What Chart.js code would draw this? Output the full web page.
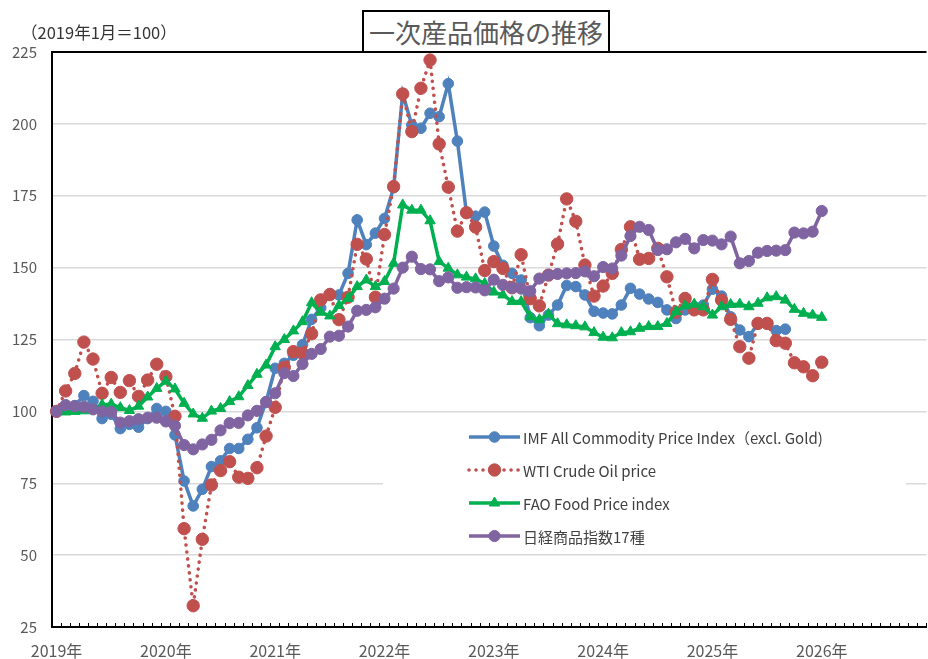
<!DOCTYPE html>
<html>
<head>
<meta charset="utf-8">
<script src="https://cdn.jsdelivr.net/npm/chart.js@4/dist/chart.umd.min.js"></script>
<style>
  html, body { margin: 0; padding: 0; background: #fff; }
  body { width: 928px; height: 659px; overflow: hidden; position: relative; font-family: "Noto Sans CJK JP", sans-serif; }
  #wrap { position: absolute; left: 0; top: 0; width: 940px; height: 659px; }
  #unit { position: absolute; left: 21px; top: 20px; font-size: 16.5px; color: #333; white-space: nowrap; }
  #title { position: absolute; left: 362px; top: 10px; width: 244px; height: 39px; border: 2px solid #000;
           background: #fff; color: #595959; font-size: 26px; line-height: 39px; text-align: center; white-space: nowrap; }
</style>
</head>
<body>
<div id="wrap"><canvas id="chart"></canvas></div>
<div id="unit">（2019年1月＝100）</div>
<div id="title">一次産品価格の推移</div>
<script>
// Monthly index values, January 2019 = 100
const years = [2019, 2020, 2021, 2022, 2023, 2024, 2025, 2026];
const yearLabels = ['2019年', '2020年', '2021年', '2022年', '2023年', '2024年', '2025年', '2026年'];
const yTicks = [25, 50, 75, 100, 125, 150, 175, 200, 225];

const seriesNames = [
  'IMF All Commodity Price Index（excl. Gold)',
  'WTI Crude Oil price',
  'FAO Food Price index',
  '日経商品指数17種'
];

// 2019-01 .. 2025-09
const imfIndex = [
  100, 101.5, 102, 105.5, 103.5, 97.5, 99, 94, 95.5, 94.5, 97.5, 101,
  100, 91.8, 75.8, 67.1, 72.9, 80.8, 82.8, 87.1, 87.1, 90.3, 94.3, 103.4,
  115, 116.7, 119.5, 123.2, 132, 136, 141, 140.5, 148, 166.6, 158, 162,
  167.1, 177.8, 210.5, 199.6, 198.5, 203.7, 202.5, 214, 194, 169, 167.9, 169.3,
  157.5, 150.8, 148, 145.7, 132.6, 129.8, 133.5, 137, 143.8, 143.4, 140.5, 134.8,
  134.2, 133.9, 137, 142.8, 140.8, 139.1, 137.9, 135.3, 132.3, 135.3, 136.4, 137,
  142.5, 140.1, 132.9, 128.3, 126, 130.6, 130.6, 128.1, 128.6
];

// 2019-01 .. 2026-01
const wtiIndex = [
  100, 107.1, 113.2, 124.1, 118.2, 106.3, 111.8, 106.6, 110.7, 105.2, 110.9, 116.4,
  112.1, 98.3, 59.2, 32.4, 55.5, 74.4, 79.4, 82.5, 77.1, 76.7, 80.4, 91.4,
  101.4, 115.3, 120.8, 120.2, 127, 138.8, 140.6, 131.9, 139.7, 158.1, 153, 139.7,
  161.5, 178.2, 210.4, 197.3, 212.4, 222.2, 193, 178, 162.7, 169.1, 164.1, 149,
  152.1, 149.7, 143, 154.5, 139.2, 136.7, 147.4, 158.2, 173.9, 166.1, 150.9, 140.1,
  143.6, 148, 156.3, 164.2, 152.9, 153.2, 156.7, 146.8, 134.5, 139.3, 135.3, 135.3,
  145.9, 138.7, 132, 122.5, 118.5, 130.6, 130.6, 124.6, 123.7, 116.9, 115.5, 112.4,
  117.1
];

const faoIndex = [
  100, 99.8, 100, 100.2, 100.7, 102.3, 102.5, 101.3, 100.3, 101.8, 105, 108,
  110.5, 107.8, 102.8, 99.1, 97.6, 100.1, 101, 103.4, 105.1, 109, 112.9, 116.1,
  122.5, 125, 128, 131.2, 137.8, 134.5, 133.2, 136.8, 139.3, 143.4, 145.7, 143.4,
  145.2, 151.5, 171.8, 170, 170, 166.3, 152.1, 149.8, 147.5, 146.7, 146.1, 144.5,
  141.5, 140.5, 138.2, 138.2, 132.9, 131.9, 133.8, 130.5, 130.1, 129.8, 129.4, 127.4,
  125.8, 125.6, 127.4, 127.7, 128.9, 129.5, 129.5, 130.6, 134.7, 136.7, 137.3, 136.4,
  133.5, 136.4, 137.2, 137.3, 136.4, 137.6, 139.5, 139.9, 138.7, 135.5, 134.1, 133.5,
  132.7
];

const nikkeiIndex = [
  100, 102.2, 101.8, 101.6, 100.7, 100, 99.8, 96.1, 96.6, 97.3, 97.8, 97.8,
  96.5, 95, 88.3, 86.8, 88.5, 90.1, 93.4, 95.9, 96, 98.6, 100.2, 103.2,
  106.3, 113.3, 112.3, 116.5, 120, 121.7, 126, 126.3, 129.5, 135, 135.3, 136.2,
  139.2, 142.7, 150, 153.8, 149.5, 149.4, 145.3, 146.6, 143, 143.2, 143.1, 142.1,
  145.8, 144, 143, 142.7, 141.8, 146.2, 147.4, 147.8, 148, 148.1, 148.7, 147,
  150.2, 149.7, 154.2, 161, 164.2, 163.1, 156.1, 156.4, 158.8, 160, 156.7, 159.6,
  159.4, 158.1, 160.8, 151.5, 152.3, 155.2, 155.8, 155.9, 156.1, 162.2, 161.9, 162.5,
  169.7
];

// one category per month over the whole axis span
const months = [];
years.forEach((y, yi) => {
  for (let m = 1; m <= 12; m++) months.push({ yi, m });
});
const categories = months.map(d => years[d.yi] + '-' + String(d.m).padStart(2, '0'));

const colors = ['#4F81BD', '#C0504D', '#00B050', '#8064A2'];

function lineSet(idx, data, extra) {
  return Object.assign({
    label: seriesNames[idx],
    data: data,
    borderColor: colors[idx],
    backgroundColor: colors[idx],
    pointBackgroundColor: colors[idx],
    pointBorderColor: colors[idx],
    pointBorderWidth: 1,
    borderWidth: 3.5,
    pointRadius: 5.5,
    pointHoverRadius: 5.5,
    tension: 0,
    fill: false,
    spanGaps: false
  }, extra);
}

const datasets = [
  lineSet(0, imfIndex, { order: 4, pointStyle: 'circle', pointRadius: 5.3 }),
  lineSet(1, wtiIndex, { order: 3, pointStyle: 'circle', pointRadius: 6.2, borderWidth: 3.6,
                         borderDash: [0.01, 7], borderCapStyle: 'round' }),
  lineSet(2, faoIndex, { order: 2, pointStyle: 'triangle', pointRadius: 6 }),
  lineSet(3, nikkeiIndex, { order: 1, pointStyle: 'circle', pointRadius: 5.6 })
];

// Legend panel inside the plot area
const boxLegend = {
  id: 'boxLegend',
  afterDatasetsDraw(chart) {
    const ctx = chart.ctx;
    ctx.save();
    ctx.fillStyle = '#fff';
    ctx.fillRect(383, 418, 523, 134);
    datasets.forEach((ds, i) => {
      const y = 437 + 33 * i;
      ctx.save();
      ctx.strokeStyle = ds.borderColor;
      ctx.lineWidth = ds.borderWidth;
      ctx.lineCap = ds.borderCapStyle || 'butt';
      ctx.setLineDash(ds.borderDash || []);
      ctx.beginPath();
      ctx.moveTo(469, y);
      ctx.lineTo(520, y);
      ctx.stroke();
      ctx.restore();
      ctx.fillStyle = ds.pointBackgroundColor;
      ctx.strokeStyle = ds.pointBorderColor;
      Chart.helpers.drawPoint(ctx, {
        pointStyle: ds.pointStyle, radius: ds.pointRadius, rotation: 0, borderWidth: 1
      }, 494.5, y);
      ctx.fillStyle = '#404040';
      ctx.font = '15px "Noto Sans CJK JP", sans-serif';
      ctx.textBaseline = 'middle';
      ctx.textAlign = 'left';
      ctx.fillText(ds.label, 523, y + 1);
    });
    ctx.restore();
  }
};

new Chart(document.getElementById('chart'), {
  type: 'line',
  data: { labels: categories, datasets: datasets },
  options: {
    responsive: true,
    maintainAspectRatio: false,
    animation: false,
    events: [],
    layout: { padding: { left: 0, top: 52, right: 4, bottom: 0 } },
    plugins: { legend: { display: false }, title: { display: false }, tooltip: { enabled: false } },
    scales: {
      x: {
        type: 'category',
        offset: true,
        afterFit(scale) { scale.height = 32; },
        border: { display: true, color: '#000', width: 2 },
        grid: {
          offset: true,
          drawOnChartArea: false,
          drawTicks: true,
          tickLength: -4,
          tickColor: '#000',
          tickWidth: 1
        },
        ticks: {
          autoSkip: false,
          maxRotation: 0,
          minRotation: 0,
          padding: 18,
          color: '#595959',
          font: { family: '"Noto Sans CJK JP", sans-serif', size: 16 },
          callback(value, index) {
            const d = months[index];
            return d && d.m === 1 ? yearLabels[d.yi] : '';
          }
        }
      },
      y: {
        min: 25,
        max: 225,
        afterFit(scale) { scale.width = 52; },
        afterBuildTicks(scale) { scale.ticks = yTicks.map(v => ({ value: v })); },
        border: { display: true, color: '#000', width: 2 },
        grid: {
          drawTicks: false,
          color(ctx) { return ctx.tick && ctx.tick.value === 225 ? '#000' : '#d9d9d9'; },
          lineWidth(ctx) { return ctx.tick && ctx.tick.value === 225 ? 2 : 1.5; }
        },
        ticks: {
          padding: 15,
          color: '#595959',
          font: { family: '"Noto Sans CJK JP", sans-serif', size: 15 }
        }
      }
    }
  },
  plugins: [boxLegend]
});
</script>
</body>
</html>
